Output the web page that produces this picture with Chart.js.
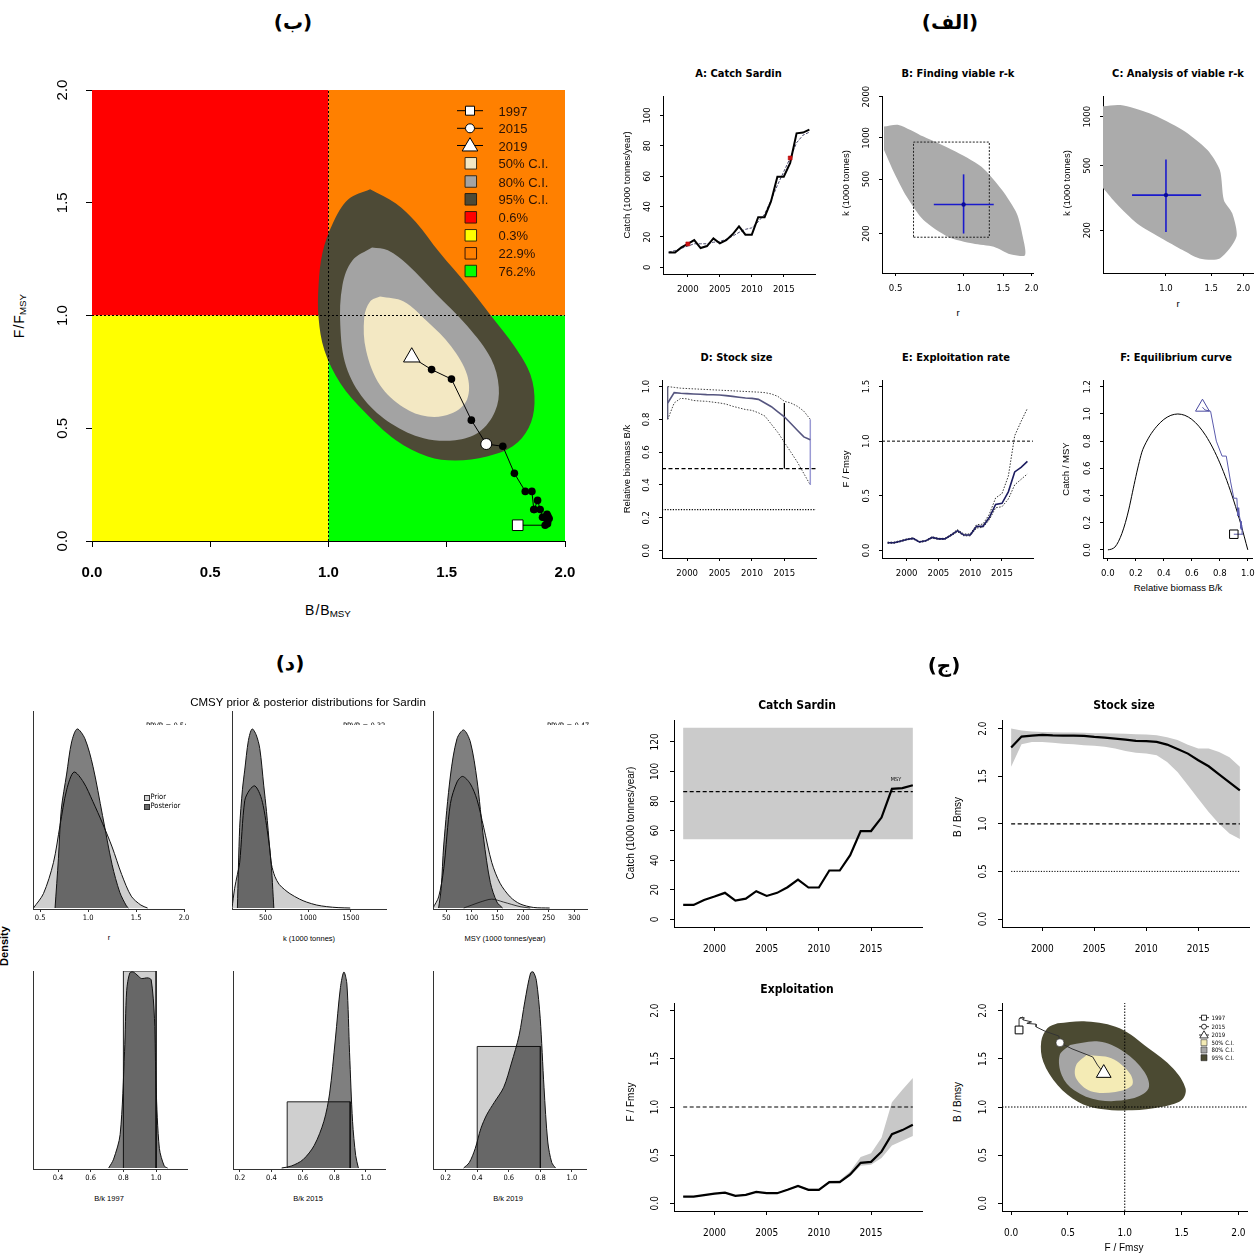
<!DOCTYPE html>
<html><head><meta charset="utf-8">
<script src="https://cdn.jsdelivr.net/npm/chart.js@4.4.1/dist/chart.umd.min.js"></script>
<style>
html,body{margin:0;padding:0;background:#fff;}
#page{position:relative;width:1260px;height:1254px;overflow:hidden;background:#fff;}
.t{position:absolute;white-space:nowrap;line-height:1;color:#000;}
.t sub{font-size:0.7em;vertical-align:-0.25em;}
</style></head><body><div id="page"></div>
<script>
// ================= DATA =================
const years = [1997,1998,1999,2000,2001,2002,2003,2004,2005,2006,2007,2008,2009,2010,2011,2012,2013,2014,2015,2016,2017,2018,2019];
const catchT = [9.7,9.7,13.1,15.4,17.9,12.7,14.0,19.0,15.8,17.9,21.7,26.9,21.5,21.5,33.0,33.0,43.4,59.7,59.7,68.8,88.2,88.7,90.7];
const catchSmooth = [10,11,12.5,14,15.5,15.5,15.5,16.5,17,18.5,20.5,23,25,26,30,35,44,54,63,72,82,87,89];
const redMarkYear = [2000,2016];
const redMarkCatch = [15.4,72];
const msy = 86.4, msyLo = 54.1, msyHi = 129.6;
const bBmsy = [1.80,1.916,1.926,1.933,1.928,1.926,1.926,1.924,1.912,1.905,1.895,1.884,1.870,1.868,1.860,1.832,1.786,1.737,1.667,1.604,1.520,1.436,1.352];
const bBmsyHi = [2.0,1.98,1.97,1.965,1.962,1.96,1.958,1.955,1.952,1.95,1.948,1.945,1.94,1.938,1.93,1.91,1.88,1.83,1.79,1.79,1.755,1.70,1.60];
const bBmsyLo = [1.60,1.835,1.86,1.86,1.85,1.84,1.835,1.825,1.82,1.81,1.79,1.765,1.745,1.737,1.72,1.65,1.545,1.405,1.264,1.124,1.0,0.897,0.84];
const fFmsy = [0.07,0.07,0.084,0.10,0.11,0.077,0.087,0.118,0.105,0.105,0.14,0.18,0.14,0.14,0.22,0.22,0.30,0.42,0.43,0.536,0.718,0.76,0.815];
const fFmsyHi = [0.075,0.075,0.09,0.105,0.115,0.082,0.092,0.125,0.11,0.11,0.148,0.19,0.15,0.15,0.235,0.24,0.33,0.48,0.52,0.68,1.05,1.18,1.30];
const fFmsyLo = [0.065,0.065,0.078,0.095,0.105,0.072,0.082,0.112,0.10,0.10,0.133,0.17,0.133,0.133,0.205,0.21,0.28,0.39,0.40,0.47,0.60,0.65,0.70];
const bk = [0.90,0.963,0.959,0.957,0.955,0.953,0.951,0.950,0.949,0.945,0.940,0.935,0.930,0.928,0.922,0.90,0.877,0.846,0.816,0.775,0.734,0.693,0.676];
const bkHi = [1.0,0.995,0.99,0.988,0.986,0.984,0.982,0.98,0.978,0.976,0.974,0.972,0.97,0.968,0.966,0.963,0.955,0.94,0.91,0.90,0.88,0.85,0.80];
const bkLo = [0.80,0.90,0.928,0.925,0.915,0.912,0.91,0.905,0.90,0.893,0.88,0.87,0.86,0.855,0.84,0.82,0.77,0.72,0.66,0.60,0.54,0.47,0.40];
const relCatch = [0.115,0.115,0.15,0.18,0.21,0.15,0.16,0.22,0.18,0.21,0.25,0.31,0.25,0.25,0.38,0.38,0.50,0.69,0.69,0.80,1.02,1.03,1.05];
const priorYears = [1997,2015,2019];
const priorLo = [0.8,0.5,0.4];
const priorHi = [1.0,0.9,0.8];
const priorDens = [1.0,0.336,0.617];
const eqX = [0,0.025,0.05,0.075,0.1,0.125,0.15,0.175,0.2,0.225,0.25,0.3,0.35,0.4,0.45,0.5,0.55,0.6,0.65,0.7,0.75,0.8,0.85,0.9,0.95,1.0];
const eqY = [0,0.005,0.02,0.06,0.12,0.2,0.3,0.42,0.54,0.65,0.74,0.84,0.91,0.96,0.99,1.0,0.99,0.96,0.91,0.84,0.75,0.64,0.51,0.36,0.19,0.0];
// r-k clouds (outline of viable r-k points)
const cloudBr = [0.444,0.515,0.664,0.892,1.2,1.48,1.72,1.83,1.87,1.61,1.36,1.10,0.855,0.664,0.56,0.494,0.444];
const cloudBk = [1208,1242,1021,815,615,415,280,189,139,141,160,169,189,251,371,549,815];
const priorBoxR = [0.6,1.3];
const priorBoxK = [188,931];
const crossB = {r:[0.738,1.0,1.36], k:[200,326,541]};
const cloudCr = [0.55,0.665,0.862,1.16,1.45,1.62,1.68,1.81,1.88,1.62,1.35,1.16,0.964,0.772,0.641,0.55];
const cloudCk = [1153,1180,1049,828,623,469,306,254,182,134,134,151,178,220,292,388];
const crossC = {r:[0.738,1.0,1.37], k:[195,329,546]};
// Kobe contours (panel ب): x = B/Bmsy, y = F/Fmsy
const k95B = [1.176,1.285,1.369,1.469,1.586,1.687,1.787,1.854,1.871,1.846,1.779,1.670,1.536,1.419,1.285,1.151,1.050,0.983,0.958,0.958,0.975,1.017,1.084,1.176];
const k95F = [1.560,1.497,1.415,1.280,1.135,0.999,0.863,0.737,0.610,0.501,0.420,0.375,0.357,0.375,0.447,0.574,0.700,0.845,0.990,1.135,1.280,1.406,1.515,1.560];
const k80B = [1.184,1.251,1.335,1.452,1.586,1.687,1.720,1.704,1.637,1.536,1.402,1.268,1.151,1.075,1.050,1.059,1.101,1.184];
const k80F = [1.301,1.289,1.225,1.099,0.954,0.809,0.682,0.574,0.483,0.447,0.456,0.519,0.628,0.773,0.954,1.135,1.244,1.301];
const k50B = [1.218,1.318,1.419,1.519,1.586,1.586,1.519,1.419,1.318,1.218,1.159,1.151,1.176,1.218];
const k50F = [1.084,1.062,0.972,0.863,0.737,0.628,0.565,0.552,0.592,0.691,0.845,0.990,1.062,1.084];
const kobeShares = ['0.6%','0.3%','22.9%','76.2%'];
// Kobe contours (panel ج): x = F/Fmsy, y = B/Bmsy
const c95F = [0.41,0.664,0.955,1.209,1.426,1.535,1.499,1.318,1.064,0.773,0.592,0.41,0.283,0.265,0.319,0.41];
const c95B = [1.871,1.889,1.819,1.610,1.401,1.192,1.070,1.0,0.965,0.983,1.052,1.226,1.470,1.679,1.819,1.871];
const c80F = [0.519,0.773,0.991,1.172,1.209,1.064,0.773,0.555,0.446,0.428,0.519];
const c80B = [1.645,1.679,1.575,1.366,1.192,1.087,1.070,1.174,1.331,1.540,1.645];
const c50F = [0.664,0.882,1.045,1.064,0.918,0.701,0.573,0.573,0.664];
const c50B = [1.540,1.505,1.348,1.226,1.157,1.164,1.296,1.436,1.540];
// prior / posterior densities (relative heights)
const rPriorX = [0.43,0.534,0.638,0.707,0.776,0.852,0.95,1.05,1.15,1.25,1.35,1.45,1.55,1.62];
const rPriorY = [0,0.073,0.23,0.42,0.60,0.69,0.64,0.54,0.43,0.31,0.17,0.06,0.015,0];
const rPostX = [0.655,0.69,0.72,0.776,0.828,0.886,0.966,1.05,1.15,1.25,1.33,1.4,1.42];
const rPostY = [0,0.25,0.5,0.68,0.843,0.909,0.86,0.72,0.47,0.22,0.08,0.01,0];
const kPriorX = [108,139,171,198,257,315,375,433,473,512,550,571,610,660,720,786,900,982,1100,1217,1350,1492];
const kPriorY = [0,0.10,0.17,0.23,0.545,0.60,0.62,0.58,0.52,0.42,0.30,0.22,0.16,0.12,0.095,0.073,0.045,0.03,0.015,0.007,0.002,0];
const kPostX = [171,198,230,257,300,343,390,433,480,512,550,571,590,598];
const kPostY = [0,0.41,0.6,0.70,0.85,0.909,0.88,0.81,0.62,0.49,0.3,0.2,0.06,0];
const msyPriorX = [24,35,45,58,71,82,97,110,123,139,155,175,194,220,252];
const msyPriorY = [0,0.056,0.2,0.53,0.64,0.668,0.63,0.55,0.41,0.23,0.126,0.056,0.021,0.003,0];
const msyPostX = [35,40,45,58,71,84,97,110,123,136,149,160];
const msyPostY = [0,0.1,0.32,0.67,0.86,0.904,0.843,0.65,0.35,0.13,0.03,0];
const msyHumpX = [84,100,116,139,162,194,214];
const msyHumpY = [0,0.015,0.03,0.045,0.03,0.007,0];
const bk97PostX = [0.71,0.74,0.78,0.807,0.82,0.839,0.86,0.89,0.91,0.95,0.97,0.99,1.0,1.02,1.05,1.07];
const bk97PostY = [0,0.045,0.17,0.59,0.9,0.99,0.995,0.975,0.962,0.965,0.955,0.76,0.41,0.1,0.01,0];
const bk15PostX = [0.465,0.526,0.6,0.672,0.733,0.769,0.806,0.838,0.86,0.879,0.896,0.915,0.935,0.952];
const bk15PostY = [0,0.01,0.042,0.115,0.237,0.376,0.655,0.916,0.995,0.934,0.585,0.237,0.063,0];
const bk19PostX = [0.314,0.35,0.387,0.423,0.46,0.508,0.568,0.617,0.665,0.702,0.738,0.755,0.775,0.799,0.823,0.847,0.872,0.896];
const bk19PostY = [0,0.028,0.098,0.2,0.27,0.333,0.41,0.533,0.672,0.847,0.99,0.995,0.95,0.76,0.41,0.132,0.028,0];
const ppvr = ['PPVR = 0.54','PPVR = 0.32','PPVR = 0.47'];
// tick labels
const ticksKobe = [0,0.5,1.0,1.5,2.0];
const ticksYear = [2000,2005,2010,2015];
const ticksCatchA = [0,20,40,60,80,100];
const ticksCatchC = [0,20,40,60,80,100,120];
const ticksR_B = [0.5,1.0,1.5,2.0];
const ticksR_C = [1.0,1.5,2.0];
const ticksK_B = [200,500,1000,2000];
const ticksK_C = [200,500,1000];
const ticksBk = [0,0.2,0.4,0.6,0.8,1.0];
const ticksE = [0,0.5,1.0,1.5];
const ticksF_y = [0,0.2,0.4,0.6,0.8,1.0,1.2];
const ticksF_x = [0,0.2,0.4,0.6,0.8,1.0];
const ticksDr = [0.5,1.0,1.5,2.0];
const ticksDk = [500,1000,1500];
const ticksDmsy = [50,100,150,200,250,300];
const ticksD97 = [0.4,0.6,0.8,1.0];
const ticksD15 = [0.2,0.4,0.6,0.8,1.0];

// ================= HELPERS =================
const page = document.getElementById('page');
const FN = "'Liberation Sans Narrow','Arial Narrow','DejaVu Sans Condensed',sans-serif";
const FA = "'Liberation Sans',Arial,Helvetica,sans-serif";
const mctx = document.createElement('canvas').getContext('2d');
function widest(labels, size, family, weight){ mctx.font = `${weight||'normal'} ${size}px ${family}`; let w=0; labels.forEach(s=>{w=Math.max(w,mctx.measureText(s).width);}); return w; }
const f1 = v => Number(v).toFixed(1);
const f0 = v => String(Math.round(v));
const P = (xs, ys) => xs.map((x,i)=>({x:x, y:ys[i]}));
function L(xs, ys, color, w, dash, extra){ return Object.assign({data:P(xs,ys), showLine:true, borderColor:color, borderWidth:w||1, borderDash:dash||[], pointRadius:0, pointHoverRadius:0, fill:false, tension:0}, extra||{}); }
function G(xs, ys, color, extra){ return Object.assign({data:P(xs,ys), showLine:true, borderWidth:0, borderColor:'rgba(0,0,0,0)', pointRadius:0, pointHoverRadius:0, fill:false, polyColor:color, tension:0}, extra||{}); }
function M(xs, ys, style, r, bg, bc, bw, extra){ return Object.assign({data:P(xs,ys), showLine:false, pointStyle:style, pointRadius:r, pointHoverRadius:r, pointBackgroundColor:bg, pointBorderColor:bc, pointBorderWidth:(bw===undefined?1:bw)}, extra||{}); }

const polyFill = { id:'polyFill', beforeDatasetDraw(chart, args){
  const ds = chart.data.datasets[args.index]; if (!ds.polyColor) return;
  const pts = args.meta.data; if (!pts.length) return;
  const ctx = chart.ctx, a = chart.chartArea;
  ctx.save(); ctx.beginPath(); ctx.rect(a.left, a.top, a.right-a.left, a.bottom-a.top); ctx.clip();
  ctx.beginPath(); ctx.moveTo(pts[0].x, pts[0].y);
  for (let i=1;i<pts.length;i++){ const p=pts[i], q=pts[i-1];
    if (ds.tension && q.cp2x!==undefined && p.cp1x!==undefined) ctx.bezierCurveTo(q.cp2x,q.cp2y,p.cp1x,p.cp1y,p.x,p.y); else ctx.lineTo(p.x,p.y); }
  ctx.closePath(); ctx.fillStyle = ds.polyColor; ctx.fill(); ctx.restore();
}};

function glyphs(items){ return { id:'glyphs', afterDatasetsDraw(chart){
  const c = chart.ctx, ox = parseFloat(chart.canvas.style.left), oy = parseFloat(chart.canvas.style.top);
  c.save();
  items.forEach(it=>{
    const x = it.x-ox, y = it.y-oy, s = it.s;
    c.lineWidth = it.lw||1; c.strokeStyle = it.stroke||'#000'; c.fillStyle = it.fill||'#fff';
    if (it.line){ c.beginPath(); c.moveTo(x-it.line,y); c.lineTo(x+it.line,y); c.stroke(); }
    c.beginPath();
    if (it.t==='sq') c.rect(x-s/2,y-s/2,s,s);
    else if (it.t==='ci') c.arc(x,y,s/2,0,Math.PI*2);
    else if (it.t==='tr'){ c.moveTo(x,y-s*0.6); c.lineTo(x+s*0.6,y+s*0.42); c.lineTo(x-s*0.6,y+s*0.42); c.closePath(); }
    c.fill(); c.stroke();
  });
  c.restore();
}}; }

function mk(o){
  const l=Math.round(o.area[0]), t=Math.round(o.area[1]), r=Math.round(o.area[2]), b=Math.round(o.area[3]);
  const ML=o.ML??40, MB=o.MB??30, MT=o.MT??14, MR=o.MR??14;
  const W=r-l+ML+MR, H=b-t+MT+MB;
  const cv=document.createElement('canvas');
  cv.width=W; cv.height=H;
  cv.style.cssText=`position:absolute;left:${l-ML}px;top:${t-MT}px;width:${W}px;height:${H}px;`;
  page.appendChild(cv);
  const fs=o.fs||9, ff=o.ff||FN, tl=o.tl??3;
  const xfmt=o.xfmt||f0, yfmt=o.yfmt||f0;
  const yt=o.yticks||[], xt=o.xticks||[];
  const yfs=o.yfs||fs, xfs=o.xfs||fs;
  const yw=widest(yt.map(yfmt), yfs, ff, o.yw||'normal');
  const ypad=(o.yd??14)-tl-yw/2;
  const xpad=(o.xd??14)-tl-0.6*xfs;
  const axisCol=o.axisCol||'#000';
  const ds=o.datasets.map((d,i)=>Object.assign({order:-i}, d));
  return new Chart(cv, {
    type:'scatter',
    data:{datasets:ds},
    options:{
      responsive:false, animation:false, devicePixelRatio:1, events:[],
      layout:{padding:{left:0,top:MT,right:MR,bottom:0}},
      plugins:{legend:{display:false}, tooltip:{enabled:false}, title:{display:false}},
      scales:{
        x:{type:o.xtype||'linear', position:'bottom', min:o.xr[0], max:o.xr[1], z:1,
           afterBuildTicks:s=>{s.ticks=xt.map(v=>({value:v}));},
           afterFit:s=>{s.height=MB; s.paddingLeft=0; s.paddingRight=0; s.paddingTop=0; s.paddingBottom=0;},
           ticks:{display:xt.length>0, callback:v=>xfmt(v), autoSkip:false, maxRotation:0, minRotation:0, padding:xpad, color:'#000', font:{family:ff,size:xfs,weight:o.xw||'normal'}},
           grid:{display:true, drawOnChartArea:false, drawTicks:true, tickLength:tl, color:axisCol, lineWidth:1},
           border:{display:true, color:axisCol, width:1}},
        y:{type:o.ytype||'linear', position:'left', min:o.yr[0], max:o.yr[1], z:1,
           afterBuildTicks:s=>{s.ticks=yt.map(v=>({value:v}));},
           afterFit:s=>{s.width=ML; s.paddingLeft=0; s.paddingRight=0; s.paddingTop=0; s.paddingBottom=0;},
           ticks:{display:yt.length>0, callback:v=>yfmt(v), autoSkip:false, minRotation:90, maxRotation:90, crossAlign:'center', padding:ypad, color:'#000', font:{family:ff,size:yfs,weight:o.yw||'normal'}},
           grid:{display:true, drawOnChartArea:false, drawTicks:true, tickLength:tl, color:axisCol, lineWidth:1},
           border:{display:true, color:axisCol, width:1}}
      }
    },
    plugins:[polyFill].concat(o.plugins||[])
  });
}

function T(html, x, y, o){
  o=o||{};
  const d=document.createElement('div'); d.className='t'; d.innerHTML=html;
  d.style.left=x+'px'; d.style.top=y+'px';
  d.style.fontSize=(o.size||10)+'px'; d.style.fontFamily=o.ff||FA; d.style.fontWeight=o.bold?'bold':'normal';
  if (o.color) d.style.color=o.color;
  const ax=o.align==='left'?'0%':(o.align==='right'?'-100%':'-50%');
  d.style.transform=`translate(${ax},-50%)`+(o.rot?` rotate(${o.rot}deg)`:'');
  if (o.rot) d.style.transformOrigin='50% 50%';
  page.appendChild(d); return d;
}

const last = years.length-1;
const iY = y => years.indexOf(y);
const xYr = [1996.12, 2019.88];

// ================= PANEL ب : Kobe plot =================
const kobeRows = [110.7,128.3,145.5,163.3,181.5,199.3,217.3,235.3,253.3,271];
const kobeItems = [
  {t:'sq', x:470, y:kobeRows[0], s:9, line:13},
  {t:'ci', x:470, y:kobeRows[1], s:9, line:13},
  {t:'tr', x:470, y:kobeRows[2], s:13, line:13},
  {t:'sq', x:470.8, y:kobeRows[3], s:11.5, fill:'#f3e8c3', stroke:'#3a2a14'},
  {t:'sq', x:470.8, y:kobeRows[4], s:11.5, fill:'#a3a3a3', stroke:'#3a2a14'},
  {t:'sq', x:470.8, y:kobeRows[5], s:11.5, fill:'#4d4a36', stroke:'#2a2010'},
  {t:'sq', x:470.8, y:kobeRows[6], s:11.5, fill:'#ff0000', stroke:'#3a1a08'},
  {t:'sq', x:470.8, y:kobeRows[7], s:11.5, fill:'#ffff00', stroke:'#3a2a08'},
  {t:'sq', x:470.8, y:kobeRows[8], s:11.5, fill:'#ff8000', stroke:'#3a1a08'},
  {t:'sq', x:470.8, y:kobeRows[9], s:11.5, fill:'#00ff00', stroke:'#1a3a08'}
];
const dotR = ctx => { const i = ctx.dataIndex; return (i===0 || i===iY(2015) || i===last) ? 0 : 3.8; };
mk({area:[92,90,565,541], xr:[0,2], yr:[0,2], xticks:ticksKobe, yticks:ticksKobe, xfmt:f1, yfmt:f1,
  ff:FA, fs:15, xw:'bold', tl:6, yd:29, xd:32, ML:60, MB:50, MT:16, MR:20,
  datasets:[
    G([0,1,1,0],[1,1,2,2],'#ff0000'),
    G([0,1,1,0],[0,0,1,1],'#ffff00'),
    G([1,2,2,1],[1,1,2,2],'#ff8000'),
    G([1,2,2,1],[0,0,1,1],'#00ff00'),
    G(k95B,k95F,'#4d4a36',{tension:0.35}),
    G(k80B,k80F,'#a3a3a3',{tension:0.35}),
    G(k50B,k50F,'#f3e8c3',{tension:0.35}),
    L([1,1],[0,2],'#000',1,[2,2]),
    L([0,2],[1,1],'#000',1,[2,2]),
    L(bBmsy,fFmsy,'#000',1,[],{pointRadius:dotR, pointBackgroundColor:'#000', pointBorderWidth:0}),
    M([bBmsy[0]],[fFmsy[0]],'rect',7.5,'#fff','#000',1),
    M([bBmsy[iY(2015)]],[fFmsy[iY(2015)]],'circle',5.5,'#fff','#000',1),
    M([bBmsy[last]],[fFmsy[last]],'triangle',9.5,'#fff','#000',1)
  ],
  plugins:[glyphs(kobeItems)]
});
const kobeLegTxt = [String(years[0]),String(years[iY(2015)]),String(years[last]),'50% C.I.','80% C.I.','95% C.I.'].concat(kobeShares);
kobeLegTxt.forEach((s,i)=>T(s,498.5,kobeRows[i],{size:13,align:'left',color:'#2a1205'}));
T('B<span style="padding:0 1px">/</span>B<sub>MSY</sub>',328,611,{size:14});
T('F<span style="padding:0 1px">/</span>F<sub>MSY</sub>',20,316,{size:14,rot:-90});

// ================= PANEL الف =================
const A_ = {tl:3, yd:15.4, xd:16, ML:32, MB:24, fs:9.5};
mk(Object.assign({}, A_, {area:[662.7,96,815,274], xr:xYr, yr:[-4.4,112.8], xticks:ticksYear, yticks:ticksCatchA,
  datasets:[
    L(years,catchSmooth,'#4a4a6e',1,[3,1.5]),
    L(years,catchT,'#000',2),
    M(redMarkYear,redMarkCatch,'rect',2.8,'#cc1111','#aa0000',0.5)
  ]}));
mk(Object.assign({}, A_, {area:[881.6,96,1033,272.7], xtype:'logarithmic', ytype:'logarithmic', xr:[0.435,2.03], yr:[103,2020], xticks:ticksR_B, yticks:ticksK_B, xfmt:f1,
  datasets:[
    G(cloudBr,cloudBk,'#ababab',{tension:0.25}),
    L([priorBoxR[0],priorBoxR[1],priorBoxR[1],priorBoxR[0],priorBoxR[0]],[priorBoxK[0],priorBoxK[0],priorBoxK[1],priorBoxK[1],priorBoxK[0]],'#222',1,[2,1.5]),
    L([crossB.r[0],crossB.r[2]],[crossB.k[1],crossB.k[1]],'#1a1acc',1.6),
    L([crossB.r[1],crossB.r[1]],[crossB.k[0],crossB.k[2]],'#1a1acc',1.6),
    M([crossB.r[1]],[crossB.k[1]],'circle',2.2,'#0a0a99','#0a0a99',0)
  ]}));
mk(Object.assign({}, A_, {area:[1102.5,96,1252.6,272.7], xtype:'logarithmic', ytype:'logarithmic', xr:[0.569,2.18], yr:[109,1342], xticks:ticksR_C, yticks:ticksK_C, xfmt:f1, MR:6,
  datasets:[
    G(cloudCr,cloudCk,'#ababab',{tension:0.25}),
    L([crossC.r[0],crossC.r[2]],[crossC.k[1],crossC.k[1]],'#1a1acc',1.6),
    L([crossC.r[1],crossC.r[1]],[crossC.k[0],crossC.k[2]],'#1a1acc',1.6),
    M([crossC.r[1]],[crossC.k[1]],'circle',2.2,'#0a0a99','#0a0a99',0)
  ]}));
mk(Object.assign({}, A_, {area:[661.8,380,816,558.3], xr:xYr, yr:[-0.045,1.04], xticks:ticksYear, yticks:ticksBk, yfmt:f1,
  datasets:[
    L(years,bkHi,'#444',1,[1.5,1.5]),
    L(years,bkLo,'#444',1,[1.5,1.5]),
    L(xYr,[0.5,0.5],'#000',1.2,[4,2.5]),
    L(xYr,[0.25,0.25],'#000',1.2,[1.2,1.5]),
    L([priorYears[0],priorYears[0]],[priorLo[0],priorHi[0]],'#555570',1.3),
    L([priorYears[1],priorYears[1]],[priorLo[1],priorHi[1]],'#000',1.3),
    L([priorYears[2],priorYears[2]],[priorLo[2],priorHi[2]],'#9a9ad4',1.5),
    L(years,bk,'#55557f',1.6)
  ]}));
mk(Object.assign({}, A_, {area:[881.6,380,1033,558.3], xr:xYr, yr:[-0.07,1.56], xticks:ticksYear, yticks:ticksE, yfmt:f1,
  datasets:[
    L(xYr,[1,1],'#000',1,[3,2]),
    L(years,fFmsyHi,'#333',1,[1.5,1.5]),
    L(years,fFmsyLo,'#333',1,[1.5,1.5]),
    L(years,fFmsy,'#1d1d60',1.6)
  ]}));
mk(Object.assign({}, A_, {area:[1102.5,380,1254.7,558.3], xr:[-0.035,1.03], yr:[-0.06,1.25], xticks:ticksF_x, yticks:ticksF_y, xfmt:f1, yfmt:f1, MR:6,
  datasets:[
    L(eqX,eqY,'#000',1,[],{tension:0.3}),
    L(bk,relCatch,'#5a5aac',1),
    M([bk[0]],[relCatch[0]],'rect',6,'rgba(255,255,255,0)','#000',1),
    M([bk[last]],[relCatch[last]],'triangle',8,'rgba(255,255,255,0)','#4a4aa0',1)
  ]}));
T('A: Catch Sardin',738.5,73,{size:11,bold:true,ff:FN});
T('B: Finding viable r-k',958,73,{size:11,bold:true,ff:FN});
T('C: Analysis of viable r-k',1178,73,{size:11,bold:true,ff:FN});
T('D: Stock size',736.5,357,{size:11,bold:true,ff:FN});
T('E: Exploitation rate',956,357,{size:11,bold:true,ff:FN});
T('F: Equilibrium curve',1176,357,{size:11,bold:true,ff:FN});
T('Catch (1000 tonnes/year)',627,185,{size:9.5,rot:-90});
T('k (1000 tonnes)',846,183,{size:9.5,rot:-90});
T('k (1000 tonnes)',1067,183,{size:9.5,rot:-90});
T('Relative biomass B/k',627,469,{size:9.5,rot:-90});
T('F / Fmsy',846,469,{size:9.5,rot:-90});
T('Catch / MSY',1066,469,{size:9.5,rot:-90});
T('r',958,313,{size:9.5});
T('r',1178,304,{size:9.5});
T('Relative biomass B/k',1178,588,{size:9.5});

// ================= PANEL ج =================
const C_ = {fs:10, tl:4, yd:18.7, xd:22.7, ML:34, MB:32};
mk(Object.assign({}, C_, {area:[674.3,720,921.8,927.3], xr:xYr, yr:[-5.2,134.8], xticks:ticksYear, yticks:ticksCatchC,
  datasets:[
    G([years[0],years[last],years[last],years[0]],[msyLo,msyLo,msyHi,msyHi],'#cbcbcb'),
    L([years[0],years[last]],[msy,msy],'#000',1.2,[4,2.5]),
    L(years,catchT,'#000',2.2)
  ]}));
mk(Object.assign({}, C_, {area:[1001.8,720,1248.5,927.3], xr:xYr, yr:[-0.084,2.09], xticks:ticksYear, yticks:ticksKobe, yfmt:f1, MR:8,
  datasets:[
    G(years.concat(years.slice().reverse()), bBmsyHi.concat(bBmsyLo.slice().reverse()), '#c8c8c8'),
    L([years[0],years[last]],[1,1],'#000',1.2,[4,2.5]),
    L([years[0],years[last]],[0.5,0.5],'#000',1,[1.2,1.5]),
    L(years,bBmsy,'#000',2.2)
  ]}));
mk(Object.assign({}, C_, {area:[674.3,1003.3,921.8,1210.7], xr:xYr, yr:[-0.08,2.08], xticks:ticksYear, yticks:ticksKobe, yfmt:f1,
  datasets:[
    G(years.concat(years.slice().reverse()), fFmsyHi.concat(fFmsyLo.slice().reverse()), '#c8c8c8'),
    L([years[0],years[last]],[1,1],'#000',1.2,[4,2.5]),
    L(years,fFmsy,'#000',2.2)
  ]}));
const kob2Rows = [1017.7,1026.7,1035,1042.7,1050,1057.7];
const kob2Items = [
  {t:'sq', x:1204, y:kob2Rows[0], s:5, line:5, lw:0.8},
  {t:'ci', x:1204, y:kob2Rows[1], s:5, line:5, lw:0.8},
  {t:'tr', x:1204, y:kob2Rows[2], s:7, line:5, lw:0.8},
  {t:'sq', x:1204, y:kob2Rows[3], s:6, fill:'#f4ebb5', stroke:'#333', lw:0.6},
  {t:'sq', x:1204, y:kob2Rows[4], s:6, fill:'#a5a5a5', stroke:'#333', lw:0.6},
  {t:'sq', x:1204, y:kob2Rows[5], s:6, fill:'#4b4a32', stroke:'#222', lw:0.6}
];
mk(Object.assign({}, C_, {area:[1001.8,1003.3,1248.5,1210.7], xr:[-0.08,2.08], yr:[-0.08,2.08], xticks:ticksKobe, yticks:ticksKobe, xfmt:f1, yfmt:f1, MR:8,
  datasets:[
    G(c95F,c95B,'#4b4a32',{tension:0.35}),
    G(c80F,c80B,'#a5a5a5',{tension:0.35}),
    G(c50F,c50B,'#f4ebb5',{tension:0.35}),
    L([1,1],[-0.08,2.08],'#000',1,[1.5,1.5]),
    L([-0.08,2.08],[1,1],'#000',1,[1.5,1.5]),
    L(fFmsy,bBmsy,'#333',1),
    M([fFmsy[0]],[bBmsy[0]],'rect',5.5,'#fff','#000',1),
    M([fFmsy[iY(2015)]],[bBmsy[iY(2015)]],'circle',4,'#fff','#222',0.6),
    M([fFmsy[last]],[bBmsy[last]],'triangle',8.5,'#fff','#000',1)
  ],
  plugins:[glyphs(kob2Items)]
}));
['1997','2015','2019','50% C.I.','80% C.I.','95% C.I.'].forEach((s,i)=>T(s,1211.5,kob2Rows[i],{size:6,ff:FN,align:'left'}));
T('MSY',896,780,{size:5.5,ff:FN});
T('Catch Sardin',797,705,{size:12,bold:true,ff:FN});
T('Stock size',1124,705,{size:12,bold:true,ff:FN});
T('Exploitation',797,989,{size:12,bold:true,ff:FN});
T('Catch (1000 tonnes/year)',631,823,{size:10,rot:-90});
T('B / Bmsy',958,817,{size:10,rot:-90});
T('F / Fmsy',631,1102,{size:10,rot:-90});
T('B / Bmsy',958,1102,{size:10,rot:-90});
T('F / Fmsy',1124,1248,{size:10});

// ================= PANEL د : densities =================
const PRI = '#cfcfcf', POS = 'rgba(0,0,0,0.5)';
function dens(area, xr, xt, xfmt, datasets){
  return mk({area, xr, yr:[-0.005,1.0], xticks:xt, xfmt, yticks:[], fs:7.5, tl:3, xd:8.7, ML:8, MB:16, MT:2, MR:8, axisCol:'#333', datasets});
}
const pStyle = {borderWidth:1, borderColor:'#111', tension:0.3};
dens([32.7,711,184.3,908.7],[0.425,2.0],ticksDr,f1,[
  G(rPriorX,rPriorY,PRI,pStyle), G(rPostX,rPostY,POS,pStyle)]);
dens([232.3,711,385.7,908.7],[108,1911],ticksDk,f0,[
  G(kPriorX,kPriorY,PRI,pStyle), G(kPostX,kPostY,POS,pStyle)]);
dens([432.7,711,586.7,908.7],[24,325],ticksDmsy,f0,[
  G(msyPriorX,msyPriorY,PRI,pStyle), G(msyPostX,msyPostY,POS,pStyle), L(msyHumpX,msyHumpY,'#111',0.8,[],{tension:0.3})]);
const rectX = i => [priorLo[i],priorLo[i],priorHi[i],priorHi[i]];
const rectY = i => [0,priorDens[i],priorDens[i],0];
const rStyle = {borderWidth:1, borderColor:'#222'};
dens([33.3,971.4,186.8,1169.3],[0.247,1.189],ticksD97,f1,[
  G(rectX(0),rectY(0),PRI,rStyle), G(bk97PostX,bk97PostY,POS,pStyle)]);
dens([232.7,971.4,384.6,1169.3],[0.156,1.121],ticksD15,f1,[
  G(rectX(1),rectY(1),PRI,rStyle), G(bk15PostX,bk15PostY,POS,pStyle)]);
dens([432.5,971.4,585.5,1169.3],[0.12,1.089],ticksD15,f1,[
  G(rectX(2),rectY(2),PRI,rStyle), G(bk19PostX,bk19PostY,POS,pStyle)]);
T('CMSY prior &amp; posterior distributions for Sardin',308,703,{size:11.5});
T('Density',4,946,{size:11,bold:true,rot:-90});
T('r',109,938,{size:7.5});
T('k (1000 tonnes)',309,939,{size:7.5});
T('MSY (1000 tonnes/year)',505,939,{size:7.5});
T('B/k '+priorYears[0],109,1199,{size:7.5});
T('B/k '+priorYears[1],308,1199,{size:7.5});
T('B/k '+priorYears[2],508,1199,{size:7.5});
// PPVR (clipped at the panel edge like the original)
[[146,186],[343,386],[547,590]].forEach((p,i)=>{
  const box=document.createElement('div');
  box.style.cssText=`position:absolute;left:${p[0]}px;top:714px;width:${p[1]-p[0]}px;height:11px;overflow:hidden;`;
  const sp=document.createElement('span');
  sp.textContent=ppvr[i];
  sp.style.cssText='white-space:nowrap;font-size:7.5px;line-height:11px;color:#000;';
  sp.style.fontFamily=FN;
  box.appendChild(sp);
  page.appendChild(box);
});
// density legend
[['Prior','#d3d3d3',797],['Posterior','#6a6a6a',806]].forEach(a=>{
  const b=document.createElement('div');
  b.style.cssText=`position:absolute;left:143.5px;top:${a[2]-2.5}px;width:4px;height:4px;background:${a[1]};border:0.8px solid #333;`;
  page.appendChild(b);
  T(a[0],150.5,a[2],{size:7.5,ff:FN,align:'left'});
});

// ================= Arabic panel labels =================
const AR = "'DejaVu Sans','Noto Sans',sans-serif";
T('(ب)',293,22,{size:20,bold:true,ff:AR});
T('(الف)',950,22,{size:20,bold:true,ff:AR});
T('(د)',290,663,{size:20,bold:true,ff:AR});
T('(ج)',944,665,{size:20,bold:true,ff:AR});
</script>
</body></html>
